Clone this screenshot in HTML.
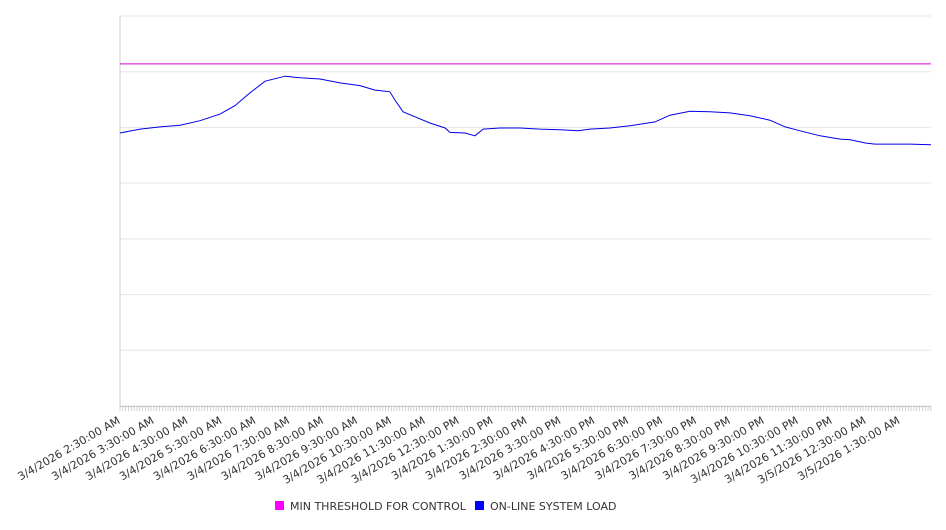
<!DOCTYPE html>
<html><head><meta charset="utf-8"><style>
body{margin:0;background:#fff;width:946px;height:526px;overflow:hidden;font-family:"DejaVu Sans","Liberation Sans",sans-serif}
svg text{font-family:"DejaVu Sans","Liberation Sans",sans-serif;font-size:11px;fill:#333}
</style></head><body>
<svg id="c" width="946" height="526"></svg>
<script>
const hourLabels=["3/4/2026 2:30:00 AM","3/4/2026 3:30:00 AM","3/4/2026 4:30:00 AM","3/4/2026 5:30:00 AM","3/4/2026 6:30:00 AM","3/4/2026 7:30:00 AM","3/4/2026 8:30:00 AM","3/4/2026 9:30:00 AM","3/4/2026 10:30:00 AM","3/4/2026 11:30:00 AM","3/4/2026 12:30:00 PM","3/4/2026 1:30:00 PM","3/4/2026 2:30:00 PM","3/4/2026 3:30:00 PM","3/4/2026 4:30:00 PM","3/4/2026 5:30:00 PM","3/4/2026 6:30:00 PM","3/4/2026 7:30:00 PM","3/4/2026 8:30:00 PM","3/4/2026 9:30:00 PM","3/4/2026 10:30:00 PM","3/4/2026 11:30:00 PM","3/5/2026 12:30:00 AM","3/5/2026 1:30:00 AM"];
const loadHours=[0,0.59,1.18,1.77,2.36,2.95,3.39,3.83,4.28,4.87,5.31,5.9,6.49,7.08,7.52,7.96,8.11,8.35,8.7,9.14,9.59,9.73,10.18,10.47,10.71,11.21,11.8,12.39,12.98,13.51,13.86,14.45,15.04,15.78,16.22,16.81,17.4,17.99,18.58,19.17,19.62,20.06,20.65,21.24,21.54,21.98,22.27,22.71,23.3,23.92];
const loadValues=[4.90,4.97,5.01,5.04,5.12,5.24,5.39,5.62,5.83,5.92,5.89,5.87,5.80,5.75,5.67,5.64,5.49,5.28,5.19,5.08,4.99,4.91,4.90,4.85,4.97,4.99,4.99,4.97,4.96,4.94,4.97,4.99,5.03,5.10,5.22,5.29,5.28,5.26,5.21,5.13,5.01,4.94,4.85,4.79,4.78,4.72,4.70,4.70,4.70,4.69];
const thresholdValue=6.14;
const yGridValues=[0,1,2,3,4,5,6,7];

const svg=document.getElementById('c');
const NS='http://www.w3.org/2000/svg';
const X0=120,X1=931,Y0=406,Y1=16,HOURS=23.92;
const xs=h=>X0+h*(X1-X0)/HOURS;
const ys=v=>Y0-v*(Y0-Y1)/7;
function mk(t,a){const e=document.createElementNS(NS,t);for(const k in a)e.setAttribute(k,a[k]);svg.appendChild(e);return e;}

yGridValues.forEach(v=>{
  const g=mk('line',{x1:X0,x2:X1,y1:ys(v),y2:ys(v),stroke:'#e6e6e6','stroke-width':1});
  
  
});
const ax=mk('line',{x1:X0,x2:X0,y1:Y1,y2:Y0,stroke:'#ccc','stroke-width':1});


const bx=mk('line',{x1:X0,x2:X1,y1:Y0+0.5,y2:Y0+0.5,stroke:'#ccc','stroke-width':1});


for(let m=0;m<=HOURS*60;m+=5){
  const t=mk('line',{x1:xs(m/60),x2:xs(m/60),y1:Y0,y2:Y0+5,stroke:'#bbb','stroke-width':0.7});
  
  
}
hourLabels.forEach((l,i)=>{
  const x=xs(i)-3,y=Y0+10;
  const t=mk('text',{x:x,y:y,'text-anchor':'end',transform:`rotate(-30 ${x} ${y})`,dy:'0.7em'});
  t.textContent=l;
  
  
});
const th=mk('line',{x1:X0,x2:X1,y1:ys(thresholdValue),y2:ys(thresholdValue),stroke:'#d000d0','stroke-width':1});


const pts=loadHours.map((h,i)=>xs(h).toFixed(1)+','+ys(loadValues[i]).toFixed(1)).join(' ');
const pl=mk('polyline',{points:pts,fill:'none',stroke:'#0000e6','stroke-width':1});



const r1=mk('rect',{x:275,y:501,width:9,height:9,fill:'#ff00ff'});


const t1=mk('text',{x:290,y:510});t1.textContent='MIN THRESHOLD FOR CONTROL';


const r2=mk('rect',{x:475,y:501,width:9,height:9,fill:'#0000ff'});


const t2=mk('text',{x:490,y:510});t2.textContent='ON-LINE SYSTEM LOAD';


</script>
</body></html>
